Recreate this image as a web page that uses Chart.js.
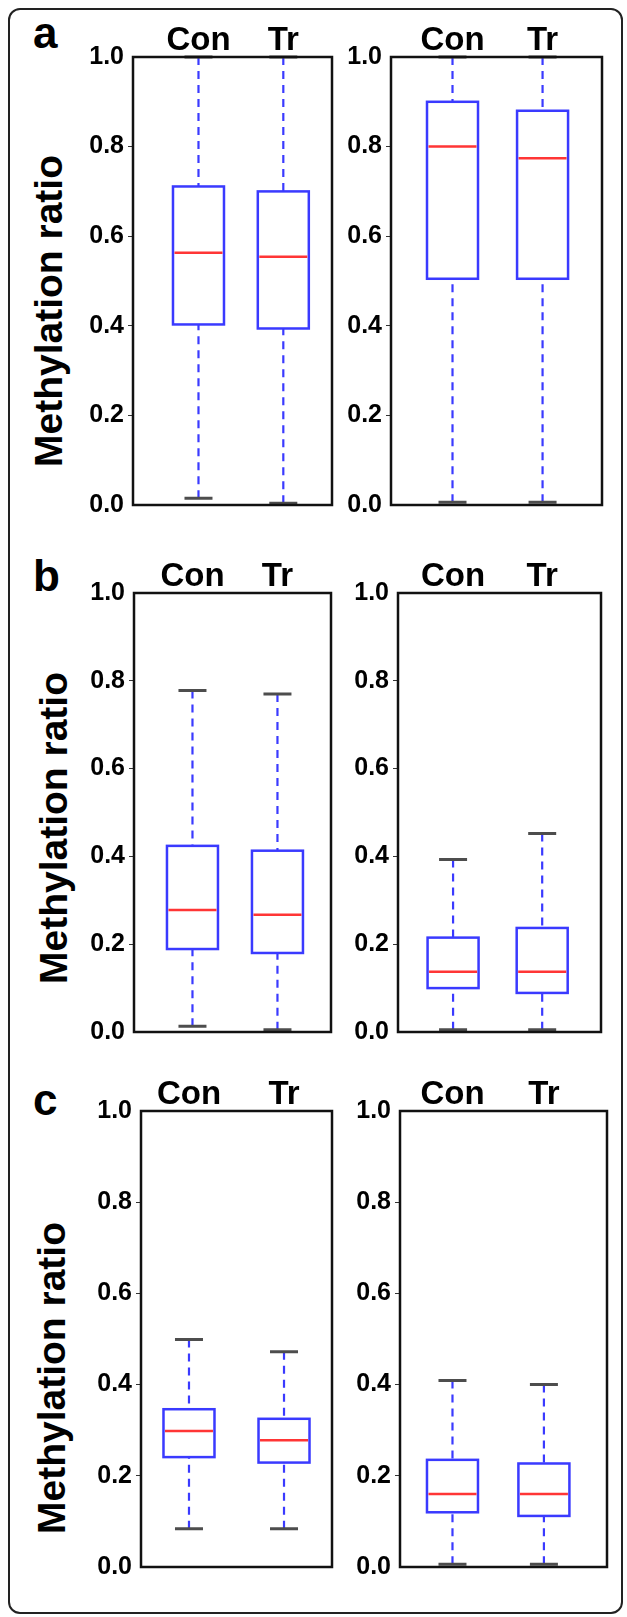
<!DOCTYPE html>
<html>
<head>
<meta charset="utf-8">
<script src="https://cdn.jsdelivr.net/npm/chart.js@4.4.1/dist/chart.umd.min.js"></script>
<style>
  html, body { margin: 0; padding: 0; background: #fff; }
  body { width: 627px; height: 1617px; position: relative; overflow: hidden; font-family: "Liberation Sans", Arial, sans-serif; }
  .frame { position: absolute; left: 8px; top: 8px; width: 615px; height: 1606px; box-sizing: border-box; border: 2px solid #222; border-radius: 12px; }
  .letter { position: absolute; font-weight: bold; font-size: 44px; line-height: 1; color: #000; }
  .ytitle { position: absolute; font-weight: bold; font-size: 39px; line-height: 1; white-space: nowrap; color: #000; transform: translate(-50%, -50%) rotate(-90deg); }
  canvas { position: absolute; }
</style>
</head>
<body>
<div class="frame"></div>
<div class="letter" style="left:33px; top:11px;">a</div>
<div class="letter" style="left:33px; top:554px;">b</div>
<div class="letter" style="left:33px; top:1078px;">c</div>
<div class="ytitle" style="left:48px; top:311px;">Methylation ratio</div>
<div class="ytitle" style="left:53px; top:828px;">Methylation ratio</div>
<div class="ytitle" style="left:51px; top:1378px;">Methylation ratio</div>

<script>
const categories = ['Con', 'Tr'];
const yTicks = [0, 0.2, 0.4, 0.6, 0.8, 1.0];

// [lower whisker, Q1, median, Q3, upper whisker] for Con, Tr
const statsA1 = [[0.015, 0.403, 0.563, 0.711, 1.0], [0.004, 0.394, 0.554, 0.700, 1.0]];
const statsA2 = [[0.006, 0.505, 0.800, 0.900, 1.0], [0.006, 0.505, 0.774, 0.880, 1.0]];
const statsB1 = [[0.013, 0.189, 0.278, 0.424, 0.778], [0.005, 0.180, 0.267, 0.413, 0.770]];
const statsB2 = [[0.005, 0.100, 0.137, 0.215, 0.393], [0.005, 0.089, 0.137, 0.237, 0.452]];
const statsC1 = [[0.084, 0.241, 0.298, 0.346, 0.499], [0.084, 0.229, 0.278, 0.325, 0.472]];
const statsC2 = [[0.006, 0.120, 0.160, 0.235, 0.409], [0.006, 0.112, 0.160, 0.227, 0.400]];

const FONT = '"Liberation Sans", Arial, sans-serif';

// plot area boxes [left, top, right, bottom] and x range of each panel
const panels = [
  { stats: statsA1, box: [133, 57, 332, 518],   xr: [0.228, 2.574] },
  { stats: statsA2, box: [391, 57, 602, 518],   xr: [0.317, 2.660] },
  { stats: statsB1, box: [134, 593, 331, 1045], xr: [0.312, 2.630] },
  { stats: statsB2, box: [398, 593, 601, 1045], xr: [0.382, 2.660] },
  { stats: statsC1, box: [141, 1111, 332, 1580], xr: [0.495, 2.505] },
  { stats: statsC2, box: [400, 1111, 607, 1580], xr: [0.426, 2.690] }
];

// box plot drawn with the chart's own scales
function boxPlugin(stats) {
  return {
    id: 'boxes',
    afterDatasetsDraw(chart) {
      const { ctx, chartArea: a, scales: { x, y } } = chart;
      const half = 25.5, capHalf = 14;
      ctx.save();
      stats.forEach((s, i) => {
        const [lo, q1, med, q3, hi] = s;
        const cx = x.getPixelForValue(i + 1);
        const pLo = y.getPixelForValue(lo), pQ1 = y.getPixelForValue(q1);
        const pMed = y.getPixelForValue(med), pQ3 = y.getPixelForValue(q3);
        const pHi = y.getPixelForValue(hi);

        // whiskers (dashed)
        ctx.strokeStyle = '#3a3aff';
        ctx.lineWidth = 2.2;
        ctx.setLineDash([8, 6]);
        ctx.beginPath();
        ctx.moveTo(cx, pHi); ctx.lineTo(cx, pQ3);
        ctx.moveTo(cx, pLo); ctx.lineTo(cx, pQ1);
        ctx.stroke();
        ctx.setLineDash([]);

        // caps
        ctx.strokeStyle = '#4d4d4d';
        ctx.lineWidth = 3;
        ctx.beginPath();
        ctx.moveTo(cx - capHalf, pHi); ctx.lineTo(cx + capHalf, pHi);
        ctx.moveTo(cx - capHalf, pLo); ctx.lineTo(cx + capHalf, pLo);
        ctx.stroke();

        // box
        ctx.strokeStyle = '#3a3aff';
        ctx.lineWidth = 2.5;
        ctx.fillStyle = '#fff';
        ctx.fillRect(cx - half, pQ3, half * 2, pQ1 - pQ3);
        ctx.strokeRect(cx - half, pQ3, half * 2, pQ1 - pQ3);

        // median
        ctx.strokeStyle = '#ff3535';
        ctx.lineWidth = 2.5;
        ctx.beginPath();
        ctx.moveTo(cx - half + 1.5, pMed); ctx.lineTo(cx + half - 1.5, pMed);
        ctx.stroke();
      });
      // plot frame
      ctx.strokeStyle = '#111';
      ctx.lineWidth = 2.5;
      ctx.strokeRect(a.left, a.top, a.width, a.height);
      ctx.restore();
    }
  };
}

function makePanel(p) {
  const padL = 70, padT = 52, padR = 6, padB = 6;
  const [l, t, r, b] = p.box;
  const canvas = document.createElement('canvas');
  canvas.width = (r - l) + padL + padR;
  canvas.height = (b - t) + padT + padB;
  canvas.style.left = (l - padL) + 'px';
  canvas.style.top = (t - padT) + 'px';
  document.body.appendChild(canvas);

  new Chart(canvas, {
    type: 'scatter',
    data: { datasets: [{ data: [] }] },
    options: {
      responsive: false,
      animation: false,
      layout: { padding: { left: 0, top: 0, right: padR, bottom: padB } },
      plugins: { legend: { display: false }, tooltip: { enabled: false } },
      scales: {
        x: {
          type: 'linear', position: 'top', min: p.xr[0], max: p.xr[1],
          afterFit: s => { s.height = padT; },
          afterBuildTicks: s => { s.ticks = categories.map((c, i) => ({ value: i + 1 })); },
          ticks: {
            callback: (v, i) => categories[i],
            font: { family: FONT, size: 33, weight: 'bold' },
            color: '#000', padding: -4, autoSkip: false, maxRotation: 0
          },
          grid: { display: false, drawTicks: false },
          border: { display: false }
        },
        y: {
          min: 0, max: 1,
          afterFit: s => { s.width = padL; },
          afterBuildTicks: s => { s.ticks = yTicks.map(v => ({ value: v })); },
          ticks: {
            callback: v => v.toFixed(1),
            font: { family: FONT, size: 25, weight: 'bold' },
            color: '#000', padding: 4
          },
          grid: {
            drawOnChartArea: false, tickLength: 5, lineWidth: 1,
            color: c => (c.tick && (c.tick.value === 0 || c.tick.value === 1)) ? 'rgba(0,0,0,0)' : '#333'
          },
          border: { display: false }
        }
      }
    },
    plugins: [boxPlugin(p.stats)]
  });
}

panels.forEach(makePanel);
</script>
</body>
</html>
